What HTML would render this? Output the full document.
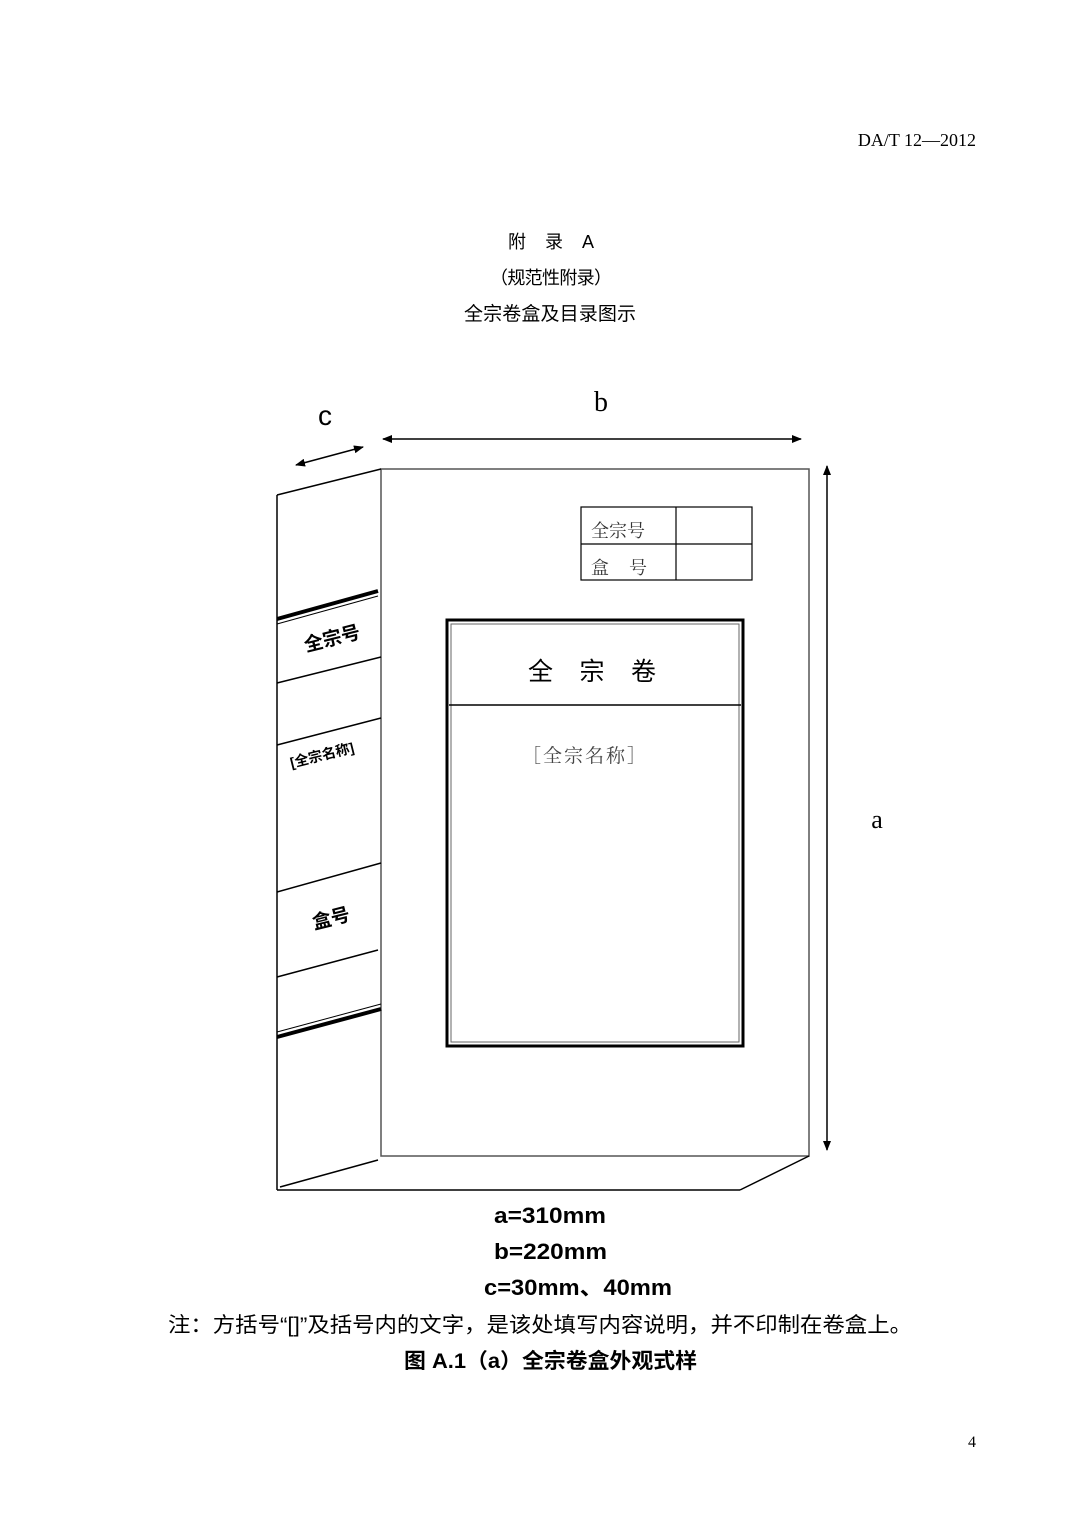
<!DOCTYPE html>
<html><head><meta charset="utf-8"><style>
html,body{margin:0;padding:0;background:#fff;}
svg{display:block;}
.s{font-family:"Liberation Sans","Noto Sans CJK SC",sans-serif;}
.r{font-family:"Liberation Serif","Noto Serif CJK SC",serif;}
</style></head><body>
<svg width="1080" height="1527" viewBox="0 0 1080 1527" xmlns="http://www.w3.org/2000/svg">
<defs><marker id="ah" markerWidth="10" markerHeight="8" refX="9" refY="4" orient="auto-start-reverse" markerUnits="userSpaceOnUse"><path d="M0,0 L10,4 L0,8 Z" fill="#000"/></marker></defs>
<text x="976" y="146" text-anchor="end" class="r" font-size="18">DA/T 12—2012</text>
<text x="508" y="248" class="s" font-size="18" textLength="86" lengthAdjust="spacing">附  录  A</text>
<text x="490" y="284" class="s" font-size="18" textLength="122" lengthAdjust="spacing">（规范性附录）</text>
<text x="464" y="320" class="s" font-size="19" textLength="172" lengthAdjust="spacing">全宗卷盒及目录图示</text>
<text x="325" y="425" text-anchor="middle" class="s" font-size="28">c</text>
<text x="601" y="411" text-anchor="middle" class="r" font-size="28">b</text>
<text x="877" y="828" text-anchor="middle" class="r" font-size="26">a</text>
<g stroke="#000" fill="none" stroke-width="1.5">
<line x1="383" y1="439" x2="801" y2="439" marker-start="url(#ah)" marker-end="url(#ah)"/>
<line x1="296" y1="465" x2="363" y2="447" marker-start="url(#ah)" marker-end="url(#ah)"/>
<line x1="827" y1="466" x2="827" y2="1150" marker-start="url(#ah)" marker-end="url(#ah)"/>
<rect x="381" y="469" width="428" height="687" stroke="#555"/>
<line x1="277" y1="495" x2="381" y2="469"/>
<line x1="277" y1="495" x2="277" y2="1190"/>
<line x1="277" y1="1190" x2="740" y2="1190"/>
<line x1="740" y1="1190" x2="809" y2="1156"/>
<line x1="280" y1="1187" x2="378" y2="1160"/>
<line x1="277" y1="619" x2="378" y2="591" stroke-width="4"/>
<line x1="277" y1="624" x2="378" y2="596" stroke-width="1"/>
<line x1="277" y1="683" x2="381" y2="657"/>
<line x1="277" y1="745" x2="381" y2="718"/>
<line x1="277" y1="892" x2="381" y2="863"/>
<line x1="277" y1="977" x2="378" y2="950"/>
<line x1="277" y1="1037" x2="381" y2="1009" stroke-width="4"/>
<line x1="277" y1="1032" x2="381" y2="1004" stroke-width="1"/>
<rect x="581" y="507" width="171" height="73" stroke-width="1.2"/>
<line x1="581" y1="544" x2="752" y2="544" stroke-width="1.2"/>
<line x1="676" y1="507" x2="676" y2="580" stroke-width="1.2"/>
<rect x="447" y="620" width="296" height="426" stroke-width="3"/>
<rect x="451" y="624" width="288" height="418" stroke-width="1" stroke="#666"/>
<line x1="449" y1="705" x2="741" y2="705" stroke-width="1.5"/>
</g>
<text x="591" y="537" class="r" font-size="18" fill="#333">全宗号</text>
<text x="591" y="574" class="r" font-size="18" fill="#333" textLength="56" lengthAdjust="spacing">盒   号</text>
<text x="528" y="680" class="s" font-size="25" textLength="128" lengthAdjust="spacing">全  宗  卷</text>
<text x="585" y="762" text-anchor="middle" class="r" font-size="19" fill="#444" letter-spacing="2">［全宗名称］</text>
<text x="332" y="645" text-anchor="middle" class="s" font-size="19" font-weight="bold" transform="rotate(-14 332 638)">全宗号</text>
<text x="322" y="760" text-anchor="middle" class="s" font-size="14" font-weight="bold" transform="rotate(-14 322 755)">[全宗名称]</text>
<text x="331" y="925" text-anchor="middle" class="s" font-size="19" font-weight="bold" transform="rotate(-14 331 918)">盒号</text>
<text x="494" y="1223" class="s" font-size="22" font-weight="bold" textLength="112" lengthAdjust="spacingAndGlyphs">a=310mm</text>
<text x="494" y="1259" class="s" font-size="22" font-weight="bold" textLength="113" lengthAdjust="spacingAndGlyphs">b=220mm</text>
<text x="484" y="1295" class="s" font-size="22" font-weight="bold" textLength="188" lengthAdjust="spacingAndGlyphs">c=30mm、40mm</text>
<text x="168" y="1332" class="s" font-size="21" textLength="744" lengthAdjust="spacingAndGlyphs">注：方括号“[]”及括号内的文字，是该处填写内容说明，并不印制在卷盒上。</text>
<text x="404" y="1368" class="s" font-size="21" font-weight="bold" textLength="293" lengthAdjust="spacingAndGlyphs">图 A.1（a）全宗卷盒外观式样</text>
<text x="972" y="1447" text-anchor="middle" class="r" font-size="16">4</text>
</svg>
</body></html>
